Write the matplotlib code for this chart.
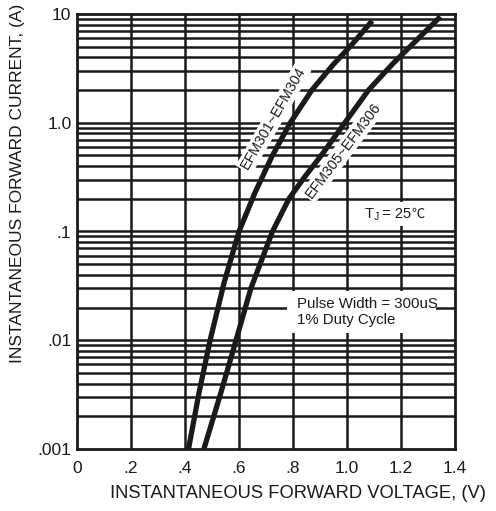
import matplotlib
matplotlib.use("Agg")
import matplotlib.pyplot as plt
from matplotlib.patches import Rectangle

plt.rcParams['font.family'] = ['Liberation Sans', 'DejaVu Sans']

# Data
v_301_304 = [0.413, 0.452, 0.493, 0.545, 0.60, 0.66, 0.722, 0.79, 0.87, 0.95, 1.02, 1.087]
i_301_304 = [0.001, 0.0033, 0.01, 0.034, 0.1, 0.23, 0.49, 1.0, 2.0, 3.45, 5.3, 8.3]

v_305_306 = [0.47, 0.533, 0.589, 0.644, 0.724, 0.785, 0.84, 0.912, 0.992, 1.08, 1.17, 1.25, 1.339]
i_305_306 = [0.001, 0.0033, 0.01, 0.03, 0.1, 0.2, 0.31, 0.53, 1.0, 2.0, 3.5, 5.5, 9.1]

x_ticks = [0, 0.2, 0.4, 0.6, 0.8, 1.0, 1.2, 1.4]
x_labels = ["0", ".2", ".4", ".6", ".8", "1.0", "1.2", "1.4"]
y_ticks = [0.001, 0.01, 0.1, 1.0, 10]
y_labels = [".001", ".01", ".1", "1.0", "10"]

ink = '#1a1a1a'
fig = plt.figure(figsize=(4.96, 5.11), dpi=100)
ax = fig.add_axes([77/496, 1-449/511, (455-77)/496, (449-14)/511])
ax.set_yscale('log')
ax.set_xlim(0, 1.4)
ax.set_ylim(0.001, 10)

# grid
for dec in [0.001, 0.01, 0.1, 1.0]:
    for m in range(1, 10):
        if dec * m > 0.001:
            ax.axhline(dec*m, color=ink, lw=1.8, zorder=1)
for xv in x_ticks[1:-1]:
    ax.axvline(xv, color=ink, lw=1.8, zorder=1)

ax.plot(v_301_304, i_301_304, color=ink, lw=3.8, zorder=5, solid_joinstyle='round')
ax.plot(v_305_306, i_305_306, color=ink, lw=3.8, zorder=5, solid_joinstyle='round')

ax.set_xticks(x_ticks)
ax.set_xticklabels(x_labels)
ax.set_yticks(y_ticks)
ax.set_yticklabels(y_labels)
ax.minorticks_off()
ax.tick_params(length=0, labelsize=12.5, colors=ink)
ax.tick_params(axis='x', pad=8.5)
ax.tick_params(axis='y', pad=4)
for s in ax.spines.values():
    s.set_linewidth(2)
    s.set_color(ink)
    s.set_zorder(6)

box = dict(facecolor='white', edgecolor='none', pad=1.5)
ax.text(0.728, 1.10, "EFM301~EFM304", rotation=60, ha='center', va='center',
        fontsize=10.3, color=ink, bbox=box, zorder=3)
ax.text(0.988, 0.56, "EFM305~EFM306", rotation=53, ha='center', va='center',
        fontsize=10.3, color=ink, bbox=box, zorder=3)

# T_J = 25 C box
ax.add_patch(Rectangle((1.04, 0.112), 0.30, 0.186-0.112, facecolor='white',
                       edgecolor='none', zorder=2))
ax.annotate("T", (1.065, 0.145), ha='left', va='center', fontsize=10.5, color=ink, zorder=3)
ax.annotate("J", (1.065, 0.145), xytext=(6.3, -2.5), textcoords='offset points',
            ha='left', va='center', fontsize=7.5, color=ink, zorder=3)
ax.annotate(" = 25", (1.065, 0.145), xytext=(10.0, 0), textcoords='offset points',
            ha='left', va='center', fontsize=10.5, color=ink, zorder=3)
ax.annotate("\u2103", (1.065, 0.145), xytext=(34.0, 0), textcoords='offset points',
            ha='left', va='center', fontsize=9.5, color=ink, zorder=3,
            family=['Noto Sans CJK SC', 'DejaVu Sans'])

# pulse box
ax.add_patch(Rectangle((0.779, 0.0116), 1.328-0.779, 0.0282-0.0116, facecolor='white',
                       edgecolor='none', zorder=2))
ax.text(0.815, 0.0182, "Pulse Width = 300uS\n1% Duty Cycle", ha='left', va='center',
        fontsize=10.8, color=ink, linespacing=1.1, zorder=3)

fig.text(18/496, 1-183/511, "INSTANTANEOUS FORWARD CURRENT, (A)", rotation=90,
         ha='center', va='center', fontsize=12.5, color=ink)
fig.text(298/496, 1-493/511, "INSTANTANEOUS FORWARD VOLTAGE, (V)",
         ha='center', va='center', fontsize=13.2, color=ink)

fig.savefig("out.png", dpi=100, facecolor='white')
